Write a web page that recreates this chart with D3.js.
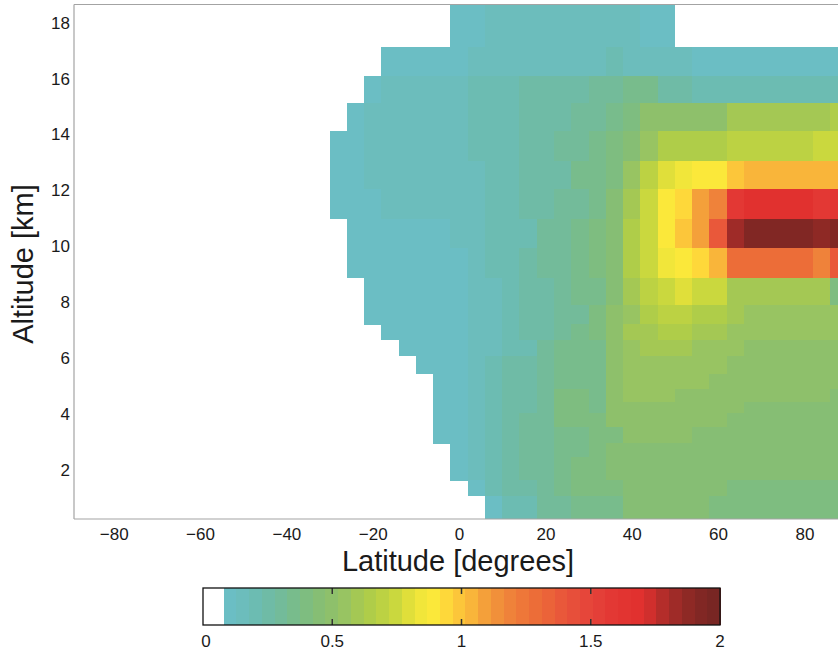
<!DOCTYPE html>
<html>
<head>
<meta charset="utf-8">
<script src="https://cdn.jsdelivr.net/npm/d3@7"></script>
<style>
  body { margin: 0; background: #fff; }
  svg text { font-family: "Liberation Sans", Arial, Helvetica, sans-serif; fill: #1a1a1a; }
</style>
</head>
<body>
<svg id="chart" width="838" height="654"></svg>
<script>

// latitude cell centres [degrees], each cell is 4 degrees wide
var latitudes = [-28, -24, -20, -16, -12, -8, -4, 0, 4, 8, 12, 16, 20, 24, 28,
                 32, 36, 40, 44, 48, 52, 56, 60, 64, 68, 72, 76, 80, 84, 88];
var latHalfWidth = 2;

// altitude level edges [km], top to bottom (one row between two edges)
var altEdges = [19, 17.14, 16.09, 15.14, 14.11, 13.06, 12.06, 10.99, 9.94, 8.87, 7.89,
                7.22, 6.66, 6.09, 5.44, 4.91, 4.43, 4.05, 3.53, 2.96, 2.45, 1.63, 1.08, 0];

var xTicks = [-80, -60, -40, -20, 0, 20, 40, 60, 80];
var yTicks = [2, 4, 6, 8, 10, 12, 14, 16, 18];
var cbarTicks = [0, 0.5, 1, 1.5, 2];

// colour map
var cmapStops  = [0.08, 0.15, 0.2, 0.25, 0.3, 0.35, 0.4, 0.45, 0.5, 0.55, 0.6, 0.65, 0.7, 0.75,
                  0.8, 0.85, 0.9, 0.95, 1.0, 1.05, 1.1, 1.2, 1.3, 1.4, 1.5, 1.6, 1.7, 1.8, 1.9, 2.0];
var cmapColors = ['#6bbfc8', '#6cbdbd', '#6cbcb3', '#6fbba7', '#73bb9a', '#78bc8c', '#7ebd80',
                  '#86be74', '#8ec06b', '#99c462', '#a5c853', '#b0cd48', '#bdd242', '#ccd93e',
                  '#e3e03a', '#f3e73a', '#fde83a', '#fed53a', '#fcc33a', '#f8b13a', '#f39b3a',
                  '#ef7e3a', '#ec6a38', '#e8553a', '#e5433a', '#e33633', '#e0302e', '#a82c29',
                  '#862824', '#742623'];
var cmapMin = 0.08, cmapMax = 2, nLevels = 39;

// one row per altitude level (top to bottom), one value per latitude; null = no data
var N = null;
var values = [
  [N,N,N,N,N,N,N, .10,.10, .16,.16,.16,.16,.16,.16,.16,.16,.16, .10,.10, N,N,N,N,N,N,N,N,N,N],
  [N,N,N, .10,.10,.10,.10,.10, .13,.13, .17,.17,.17,.17,.17,.17, .22, .17,.17, .14,.14, .10,.10,.10,.10,.10,.10,.10,.10,.10],
  [N,N, .10, .13,.13,.13,.13,.13, .18,.18,.18, .25,.25,.25,.25, .30,.30, .34,.34, .27,.27, .22,.22, .19,.19,.19,.19,.19,.19,.19],
  [N, .10, .13,.13,.13,.13,.13,.13, .18,.18,.18, .25,.25,.25, .30,.30, .35, .40, .49,.49,.49,.49,.49, .59,.59,.59,.59,.59,.59, .65],
  [.10,.10, .13,.13,.13,.13,.13,.13, .18,.18,.18, .25,.25, .28, .31, .35, .39, .45, .55, .65,.65,.65,.65, .70,.70,.70,.70,.70, .75,.75],
  [.10,.10, .13,.13,.13,.13,.13,.13, .15, .19,.19, .25,.25,.25, .35,.35, .42, .55, .70, .80, .83, .87, .90, .99, 1.04,1.04,1.04,1.04,1.04,1.04],
  [.10,.10,.10, .13,.13,.13,.13,.13,.13, .20,.20, .25,.25, .30,.30, .36, .44, .60, .75, .87, .95, 1.09, 1.18, 1.58, 1.66,1.66,1.66,1.66, 1.56, 1.62],
  [N, .10,.10,.10,.10,.10,.10, .13,.13, .20,.20,.20, .28,.28, .34, .40, .47, .65, .75, .87, .97, 1.10, 1.38, 1.82, 1.95,1.95,1.95,1.95, 1.88, 1.95],
  [N, .10,.10,.10,.10,.10,.10,.10, .13, .19,.19, .24, .28,.28, .33, .38, .47, .65, .76, .82, .89, .95, 1.04, 1.28,1.28,1.28,1.28,1.28, 1.18, 1.38],
  [N,N, .10,.10,.10,.10,.10,.10, .17,.17, .22, .25,.25, .30, .34, .36, .44, .60, .68, .74, .77, .74,.74, .60,.60,.60,.60,.60,.60, .41],
  [N,N, .10,.10,.10,.10,.10,.10, .17,.17, .22, .25,.25, .32,.32, .38, .48, .57, .66, .69,.69, .65,.65, .60, .57,.57,.57,.57,.57,.57],
  [N,N,N, .10,.10,.10,.10,.10, .17,.17, .22, .26,.26, .31, .35, .40, .48, .59,.59, .66,.66, .60,.60, .56,.56,.56,.56,.56,.56,.56],
  [N,N,N,N, .10,.10,.10,.10, .17,.17, .22,.22, .28, .35,.35, .37, .48, .55, .61,.61,.61, .57,.57,.57, .49,.49,.49,.49,.49,.49],
  [N,N,N,N,N, .10,.10,.10, .17, .20, .25,.25, .29, .35,.35, .37, .48, .55,.55,.55,.55,.55,.55, .49,.49,.49,.49,.49,.49,.49],
  [N,N,N,N,N,N, .10,.10, .17, .22, .26,.26, .29, .36,.36, .37, .48, .55,.55,.55,.55,.55, .49,.49,.49,.49,.49,.49,.49,.49],
  [N,N,N,N,N,N, .10,.10, .17, .22, .26,.26, .30, .38,.38, .37, .48, .55,.55,.55, .50,.50,.50,.50,.50,.50,.50,.50,.50, .46],
  [N,N,N,N,N,N, .10,.10, .17, .22, .26,.26, .30, .38,.38, .37, .50,.50,.50,.50,.50,.50,.50,.50, .45,.45,.45,.45,.45,.45],
  [N,N,N,N,N,N, .10,.10, .17, .22, .25, .28, .30, .38,.38, .40, .48, .50,.50,.50,.50,.50,.50, .45,.45,.45,.45,.45,.45,.45],
  [N,N,N,N,N,N, .10,.10, .17, .22, .25, .28, .32, .36,.36, .41,.41, .50,.50,.50,.50, .45,.45,.45,.45,.45,.45,.45,.45,.45],
  [N,N,N,N,N,N,N, .10, .16, .22, .25, .28, .32, .36, .36, .41, .45,.45,.45,.45,.45,.45,.45,.45,.45,.45,.45,.45,.45,.45],
  [N,N,N,N,N,N,N, .10, .14, .20, .25, .28, .32, .36, .40,.40, .45,.45,.45,.45,.45,.45,.45, .43,.43,.43,.43,.43,.43,.43],
  [N,N,N,N,N,N,N,N, .10, .18, .24, .27, .30, .34, .40,.40,.40, .45,.45,.45,.45,.45,.45, .41,.41,.41,.41,.41,.41,.41],
  [N,N,N,N,N,N,N,N,N, .10, .22,.22, .30,.30, .37,.37,.37, .45,.45,.45,.45,.45, .41,.41,.41,.41,.41,.41,.41,.41]
];

var svg = d3.select('#chart');

// plot area
var plot = { left: 74, top: 4.5, bottom: 519, right: 851 };

var x = d3.scaleLinear().domain([-89.2, 90.8]).range([plot.left, plot.right]);
var y = d3.scaleLinear().domain([0.25, 18.65]).range([plot.bottom, plot.top]);

// colour levels
var cmap = d3.scaleLinear().domain(cmapStops).range(cmapColors).interpolate(d3.interpolateRgb);
var levelStep = (cmapMax - cmapMin) / nLevels;
var levelColors = d3.range(nLevels).map(function (i) {
    return cmap(cmapMin + (i + 0.5) * levelStep);
});

function colorOf(v) {
    if (v < cmapMin) return '#ffffff';
    var i = Math.min(nLevels - 1, Math.floor((v - cmapMin) / levelStep));
    return levelColors[i];
}

svg.append('defs').append('clipPath')
    .attr('id', 'clip')
    .append('rect')
    .attr('x', plot.left)
    .attr('y', plot.top)
    .attr('width', plot.right - plot.left)
    .attr('height', plot.bottom - plot.top);

// flatten grid into cells
var cells = [];
values.forEach(function (row, r) {
    row.forEach(function (v, c) {
        if (v === null) return;
        cells.push({ lat: latitudes[c], top: altEdges[r], bottom: altEdges[r + 1], value: v });
    });
});

svg.append('g')
    .attr('clip-path', 'url(#clip)')
    .attr('shape-rendering', 'crispEdges')
    .selectAll('rect')
    .data(cells)
    .enter().append('rect')
    .attr('x', function (d) { return x(d.lat - latHalfWidth); })
    .attr('width', function (d) { return x(d.lat + latHalfWidth) - x(d.lat - latHalfWidth) + 0.5; })
    .attr('y', function (d) { return y(d.top); })
    .attr('height', function (d) { return y(d.bottom) - y(d.top) + 0.5; })
    .attr('fill', function (d) { return colorOf(d.value); });

// frame
var frame = svg.append('g').attr('stroke', '#a3a3a3').attr('stroke-width', 1.2).attr('fill', 'none');
frame.append('line').attr('x1', plot.left).attr('x2', plot.left).attr('y1', plot.top).attr('y2', plot.bottom);
frame.append('line').attr('x1', plot.left).attr('x2', plot.right).attr('y1', plot.bottom).attr('y2', plot.bottom);
frame.append('line').attr('x1', plot.left).attr('x2', plot.right).attr('y1', plot.top).attr('y2', plot.top);

// axes
var xAxis = d3.axisBottom(x).tickValues(xTicks).tickSize(0).tickPadding(9);
var yAxis = d3.axisLeft(y).tickValues(yTicks).tickSize(0).tickPadding(4);

var gx = svg.append('g')
    .attr('transform', 'translate(0,' + plot.bottom + ')')
    .call(xAxis);
var gy = svg.append('g')
    .attr('transform', 'translate(' + plot.left + ',0)')
    .call(yAxis);

[gx, gy].forEach(function (g) {
    g.select('.domain').remove();
    g.selectAll('text').style('font-size', '17px').attr('fill', '#1a1a1a');
});

svg.append('text')
    .attr('x', 458)
    .attr('y', 571)
    .attr('text-anchor', 'middle')
    .style('font-size', '29px')
    .text('Latitude [degrees]');

svg.append('text')
    .attr('transform', 'translate(33,264) rotate(-90)')
    .attr('text-anchor', 'middle')
    .style('font-size', '29px')
    .text('Altitude [km]');

// colour bar
var cb = { left: 203, right: 720, top: 588, bottom: 625 };
var cbX = d3.scaleLinear().domain([0, 2]).range([cb.left, cb.right]);

var cbBands = [{ from: 0, to: cmapMin, color: '#ffffff' }].concat(levelColors.map(function (c, i) {
    return { from: cmapMin + i * levelStep, to: cmapMin + (i + 1) * levelStep, color: c };
}));

var gcb = svg.append('g');
gcb.append('g')
    .attr('shape-rendering', 'crispEdges')
    .selectAll('rect')
    .data(cbBands)
    .enter().append('rect')
    .attr('x', function (d) { return cbX(d.from); })
    .attr('width', function (d) { return cbX(d.to) - cbX(d.from) + 0.5; })
    .attr('y', cb.top)
    .attr('height', cb.bottom - cb.top)
    .attr('fill', function (d) { return d.color; });

gcb.selectAll('line.tk-top')
    .data(cbarTicks.slice(1, -1))
    .enter().append('line')
    .attr('x1', cbX).attr('x2', cbX)
    .attr('y1', cb.top).attr('y2', cb.top + 6)
    .attr('stroke', '#333').attr('stroke-width', 1.5);
gcb.selectAll('line.tk-bot')
    .data(cbarTicks.slice(1, -1))
    .enter().append('line')
    .attr('x1', cbX).attr('x2', cbX)
    .attr('y1', cb.bottom - 6).attr('y2', cb.bottom)
    .attr('stroke', '#333').attr('stroke-width', 1.5);

gcb.append('rect')
    .attr('x', cb.left).attr('y', cb.top)
    .attr('width', cb.right - cb.left).attr('height', cb.bottom - cb.top)
    .attr('fill', 'none').attr('stroke', '#111').attr('stroke-width', 1.3);

gcb.selectAll('text')
    .data(cbarTicks)
    .enter().append('text')
    .attr('x', function (d) { return cbX(d) + (d === 0 ? 3 : 0); })
    .attr('y', 647)
    .attr('text-anchor', 'middle')
    .style('font-size', '17px')
    .text(function (d) { return d3.format('~g')(d); });

</script>
</body>
</html>
